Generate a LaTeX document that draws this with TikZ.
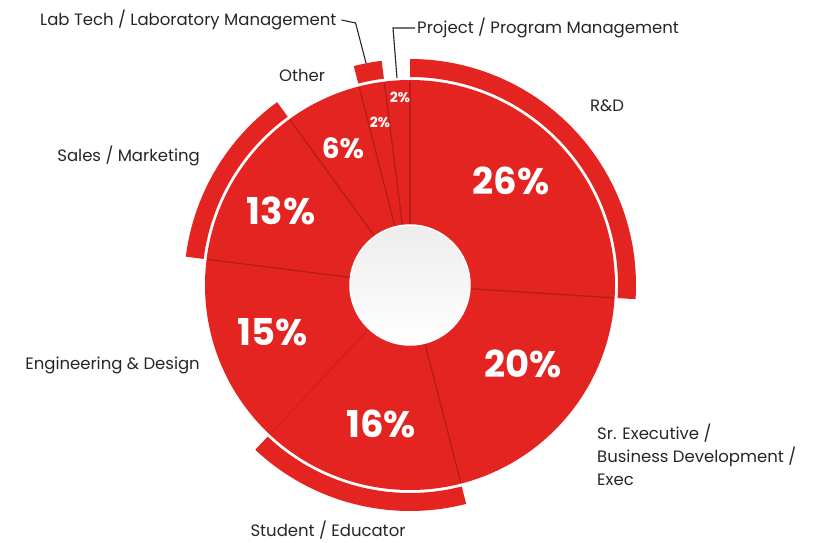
\documentclass[tikz,border=0pt]{standalone}
\usepackage{fontspec}
\setmainfont{Poppins}
\definecolor{chartred}{RGB}{228,36,33}
\definecolor{seamred}{RGB}{184,28,26}
\definecolor{labelgray}{RGB}{38,38,38}

\begin{document}
\begin{tikzpicture}[x=1pt,y=1pt,
  seg/.style={fill=chartred},
  seam/.style={draw=seamred,line width=1.3pt},
  pct/.style={text=white,font=\bfseries\fontsize{37}{37}\selectfont},
  tag/.style={text=labelgray,font=\fontsize{16.5}{23}\selectfont,inner sep=2pt},
  lead/.style={draw=labelgray,line width=1.1pt}]

  \useasboundingbox (-410,-258) rectangle (406,285);

  % ring, seams, hole
  \fill[seg] (0,0) circle (205);
  \foreach \a in {90,-3.6,-75.6,-187.2,126,104.4,97.2}
    \draw[seam] (\a:60) -- (\a:204);
  \draw[seam,draw opacity=0.35] (-133.2:60) -- (-133.2:204);
  \shade[top color=gray!14,bottom color=white] (0,0) circle (60);
  \draw[white,line width=1.5pt] (0,0) circle (60);

  % outer bands
  \foreach \a/\b in {90/-3.6,172.8/126,-75.6/-133.2,104.4/97.2}
    \fill[seg] (\a:208) arc[start angle=\a,end angle=\b,radius=208]
      -- (\b:226) arc[start angle=\b,end angle=\a,radius=226] -- cycle;

  % percentages
  \node[pct] (p26) at (101,104) {26\%};
  \node[pct] (p20) at (113,-79) {20\%};
  \node[pct] (p16) at (-29,-139) {16\%};
  \node[pct] (p15) at (-137,-47) {15\%};
  \node[pct] (p13) at (-129,74) {13\%};
  \node[pct,font=\bfseries\fontsize{28}{28}\selectfont] (p6) at (-67,137) {6\%};
  \node[pct,font=\bfseries\fontsize{14}{14}\selectfont] (p2a) at (-30,163) {2\%};
  \node[pct,font=\bfseries\fontsize{14}{14}\selectfont] (p2b) at (-10,188) {2\%};

  % category labels
  \node[tag,anchor=west] (labtech) at (-372,265) {Lab Tech / Laboratory Management};
  \node[tag,anchor=west] (project) at (5,257) {Project / Program Management};
  \node[tag] (other) at (-108,210) {Other};
  \node[tag] (rnd) at (197,179) {R\&D};
  \node[tag,anchor=east] (sales) at (-208,129) {Sales / Marketing};
  \node[tag,anchor=east] (eng) at (-208,-80) {Engineering \& Design};
  \node[tag,anchor=west,align=left] (srexec) at (185,-170)
    {Sr. Executive /\\Business Development /\\Exec};
  \node[tag] (student) at (-82,-245) {Student / Educator};

  % leaders
  \coordinate (labtip) at (-44,222);
  \coordinate (projtip) at (-13,207);
  \draw[lead] (labtech.east) ++(3,0) -- ++(14,-3) -- (labtip);
  \draw[lead] (project.west) -- ++(-22,0) -- (projtip);
\end{tikzpicture}
\end{document}
